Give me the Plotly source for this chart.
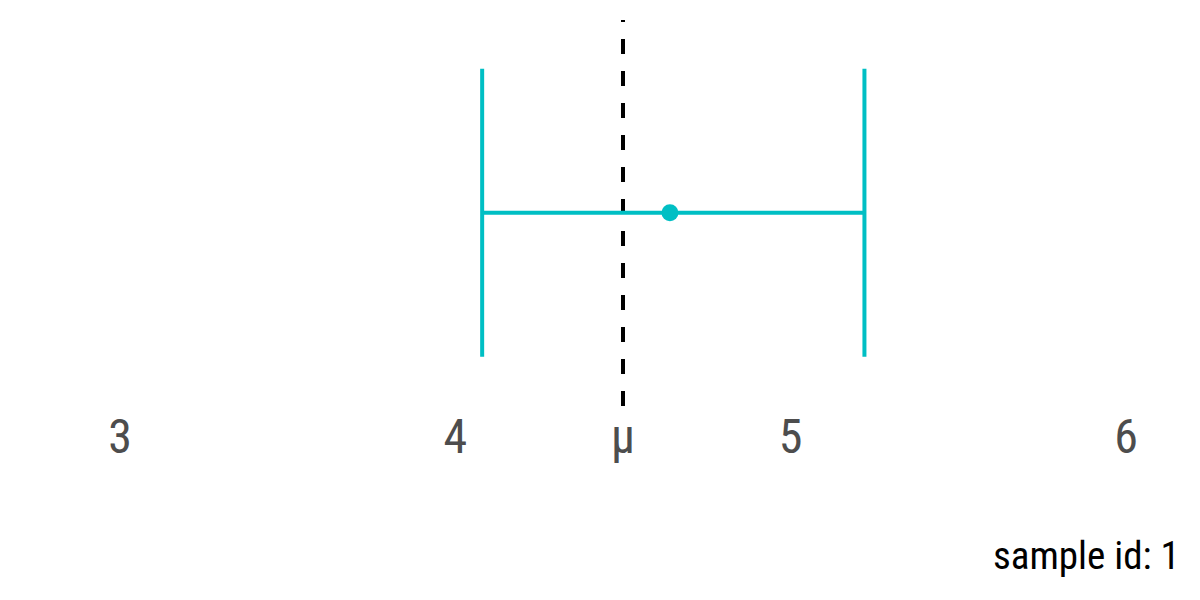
import plotly.graph_objects as go

sample_id = [1]
estimate = [4.64]
lower = [4.08]
upper = [5.22]
mu = 4.5
tick_vals = [3, 4, 4.5, 5, 6]
tick_text = ["3", "4", "μ", "5", "6"]

teal = "#00BFC4"
fig = go.Figure()

fig.add_trace(go.Scatter(
    x=estimate, y=[0],
    mode="markers",
    marker=dict(color=teal, size=17),
    error_x=dict(
        type="data", symmetric=False,
        array=[u - e for u, e in zip(upper, estimate)],
        arrayminus=[e - l for e, l in zip(estimate, lower)],
        color=teal, thickness=4, width=144,
    ),
    showlegend=False,
))

# vertical dashed reference line at mu (drawn bottom -> top, below the data)
fig.add_shape(
    type="line", xref="x", yref="paper",
    x0=mu, x1=mu, y0=-6 / 380, y1=1.0,
    line=dict(color="black", width=4, dash="15px,17px"),
    layer="below",
)

# page body has an 8px margin, so offsets are compensated in the margins
fig.update_layout(
    width=1200, height=600,
    margin=dict(l=112, r=82, t=12, b=208),
    paper_bgcolor="white", plot_bgcolor="white",
    font=dict(family="Roboto Condensed, Roboto, sans-serif"),
    xaxis=dict(
        range=[3, 6], tickvals=tick_vals, ticktext=tick_text,
        showgrid=False, zeroline=False, showline=False, ticks="",
        tickfont=dict(size=48, color="#4D4D4D"),
        ticklabelstandoff=4,
    ),
    yaxis=dict(range=[-1, 1.03], visible=False, showgrid=False, zeroline=False),
    annotations=[dict(
        text=f"sample id: {sample_id[0]}",
        x=1, xref="paper", xanchor="right", xshift=56,
        y=(392 - 548) / 380, yref="paper", yanchor="middle",
        showarrow=False, font=dict(size=39, color="black"),
    )],
)
fig.write_html("out.html")
